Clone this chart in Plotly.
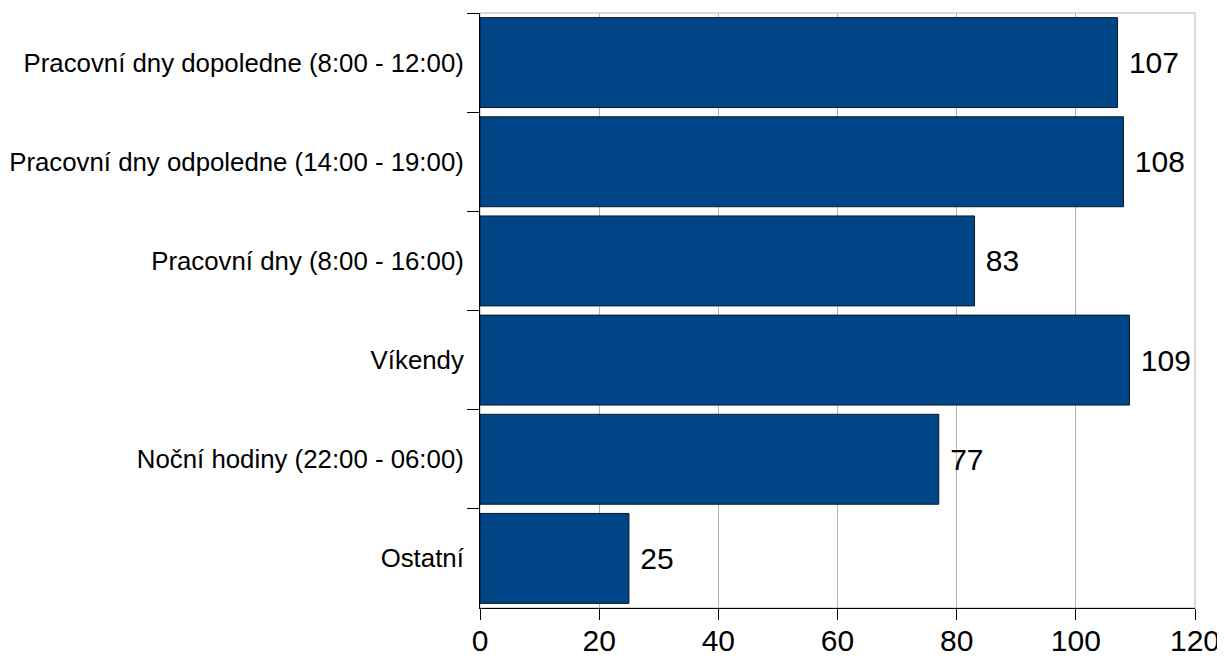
import plotly.graph_objects as go

categories = [
    "Pracovní dny dopoledne (8:00 - 12:00)",
    "Pracovní dny odpoledne (14:00 - 19:00)",
    "Pracovní dny (8:00 - 16:00)",
    "Víkendy",
    "Noční hodiny (22:00 - 06:00)",
    "Ostatní",
]
values = [107, 108, 83, 109, 77, 25]
x_ticks = [0, 20, 40, 60, 80, 100, 120]

fig = go.Figure()
fig.add_trace(go.Bar(
    y=categories, x=values, orientation="h",
    marker=dict(color="#004586", line=dict(color="#0b1a2a", width=1)),
    text=[" " + str(v) for v in values], textposition="outside",
    textfont=dict(size=30, color="#000000", family="Liberation Sans, Arial"),
    cliponaxis=False,
))
fig.update_layout(
    width=1217, height=652,
    margin=dict(l=472, r=30, t=5, b=52),
    paper_bgcolor="white", plot_bgcolor="white",
    bargap=0.093, showlegend=False,
    font=dict(family="Liberation Sans, Arial", color="#000000"),
    shapes=[dict(type="rect", xref="paper", yref="paper", x0=0, x1=1, y0=0, y1=1,
                 line=dict(color="#b3b3b3", width=1), layer="below")],
)
fig.update_xaxes(
    range=[0, 120], tickvals=x_ticks, ticktext=[str(t) for t in x_ticks],
    showgrid=True, gridcolor="#b3b3b3", gridwidth=1,
    showline=True, linecolor="#000000", linewidth=1,
    ticks="outside", ticklen=11, tickcolor="#000000",
    tickfont=dict(size=30), zeroline=False,
    automargin=False, ticklabeloverflow="allow", ticklabelstandoff=-5,
)
fig.update_yaxes(
    categoryorder="array", categoryarray=categories, autorange="reversed",
    showline=True, linecolor="#000000", linewidth=1,
    ticks="outside", ticklen=12, tickcolor="#000000", tickson="boundaries",
    tickfont=dict(size=25.8), showgrid=False,
    automargin=False, ticklabelstandoff=10,
)
fig.write_html("out.html")
